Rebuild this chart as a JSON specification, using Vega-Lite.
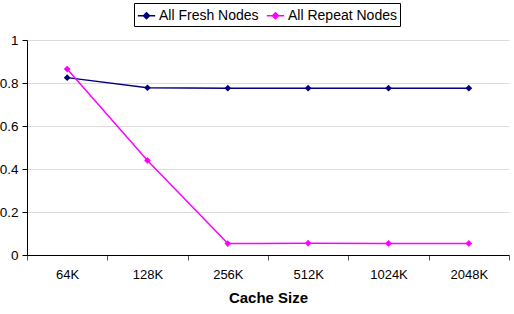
{
  "$schema": "https://vega.github.io/schema/vega-lite/v6.json",
  "width": 482,
  "height": 215,
  "autosize": {"type": "none"},
  "padding": {"left": 27, "top": 40, "right": 5, "bottom": 59},
  "background": "white",
  "config": {
    "font": "Liberation Sans",
    "view": {"stroke": null}
  },
  "data": {
    "values": [
      {"size": "64K", "series": "All Fresh Nodes", "value": 0.825},
      {"size": "128K", "series": "All Fresh Nodes", "value": 0.778},
      {"size": "256K", "series": "All Fresh Nodes", "value": 0.776},
      {"size": "512K", "series": "All Fresh Nodes", "value": 0.776},
      {"size": "1024K", "series": "All Fresh Nodes", "value": 0.776},
      {"size": "2048K", "series": "All Fresh Nodes", "value": 0.776},
      {"size": "64K", "series": "All Repeat Nodes", "value": 0.865},
      {"size": "128K", "series": "All Repeat Nodes", "value": 0.44},
      {"size": "256K", "series": "All Repeat Nodes", "value": 0.053},
      {"size": "512K", "series": "All Repeat Nodes", "value": 0.055},
      {"size": "1024K", "series": "All Repeat Nodes", "value": 0.054},
      {"size": "2048K", "series": "All Repeat Nodes", "value": 0.054}
    ]
  },
  "encoding": {
    "x": {
      "field": "size", "type": "ordinal",
      "sort": ["64K", "128K", "256K", "512K", "1024K", "2048K"],
      "scale": {"paddingInner": 0, "paddingOuter": 0},
      "axis": {
        "title": "Cache Size", "titleFontSize": 15, "titleFontWeight": "bold", "titleColor": "black",
        "titlePadding": 9,
        "labelAngle": 0, "labelFontSize": 13, "labelColor": "black", "labelPadding": 8,
        "tickBand": "extent", "tickColor": "#555", "tickSize": 5,
        "domainColor": "black", "grid": false
      }
    },
    "y": {
      "field": "value", "type": "quantitative",
      "scale": {"domain": [0, 1]},
      "axis": {
        "title": null, "values": [0, 0.2, 0.4, 0.6, 0.8, 1], "format": "~g",
        "labelFontSize": 13.5, "labelColor": "black", "labelPadding": 4,
        "tickColor": "black", "tickSize": 5, "domainColor": "black",
        "gridColor": "#dcdcdc"
      }
    },
    "color": {
      "field": "series", "type": "nominal",
      "scale": {"domain": ["All Fresh Nodes", "All Repeat Nodes"], "range": ["#000080", "#ff00ff"]},
      "legend": {
        "title": null, "orient": "none", "direction": "horizontal",
        "legendX": 107, "legendY": -37,
        "strokeColor": "black", "padding": 3, "fillColor": "white",
        "labelFontSize": 14, "labelColor": "black",
        "symbolType": "M-1,0H1M0,-0.35L0.35,0L0,0.35L-0.35,0Z",
        "symbolSize": 300, "symbolStrokeWidth": 1.5, "columnPadding": 4, "labelOffset": 3
      }
    }
  },
  "layer": [
    {"mark": {"type": "line", "strokeWidth": 1.5}},
    {"mark": {"type": "point", "shape": "diamond", "filled": true, "size": 45, "opacity": 1}}
  ]
}
